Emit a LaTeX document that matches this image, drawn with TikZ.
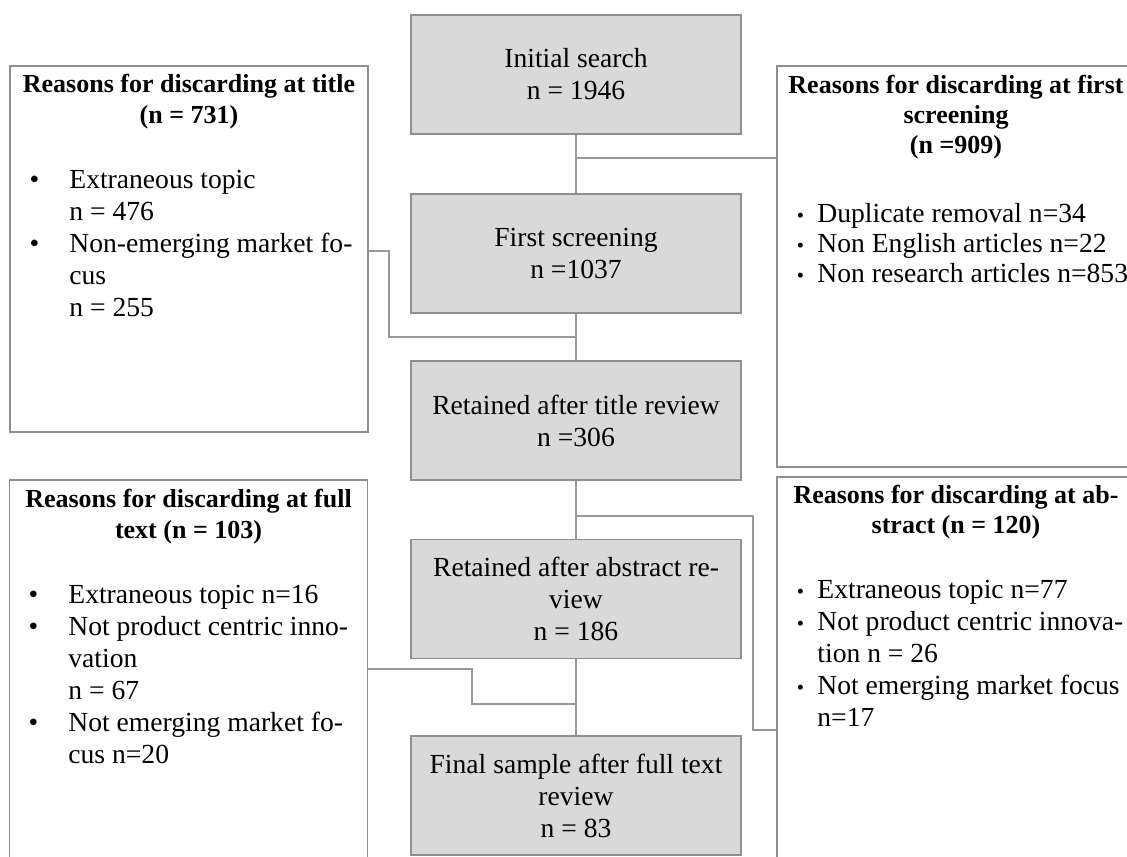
\documentclass[tikz,border=0pt]{standalone}
\usepackage{fontspec}
\setmainfont{Liberation Serif}

\definecolor{boxfill}{HTML}{D9D9D9}
\definecolor{boxline}{HTML}{8F8F8F}
\definecolor{linkline}{HTML}{999999}

% first line of a multi-line node gets a fixed height, so that the
% node's north edge lies a known distance above the first baseline
\newcommand{\topstrut}{\rule{0pt}{10pt}}
% bullets hanging to the left of the text start
\newcommand{\bulL}{\llap{\makebox[0pt][c]{\textbullet}\hspace{17.5pt}}}
\newcommand{\bulR}{\llap{\makebox[0pt][c]{\scalebox{0.75}{\textbullet}}\hspace{8.5pt}}}

\tikzset{
  stage/.style={draw=boxline, line width=0.8pt, fill=boxfill, rectangle,
    minimum width=165pt, minimum height=59.5pt, inner sep=0pt,
    align=center, font=\fontsize{13.8}{16}\selectfont},
  reasonbox/.style={draw=boxline, line width=0.8pt, fill=white, rectangle,
    minimum width=179pt, inner sep=0pt},
  reasontitle/.style={anchor=north, inner sep=0pt, align=center},
  reasonlist/.style={anchor=north west, inner sep=0pt, align=left},
  link/.style={draw=linkline, line width=0.6pt},
}

\begin{document}
\begin{tikzpicture}[x=0.5pt, y=-0.5pt]
\useasboundingbox (0,0) rectangle (1127,856);
\clip (0,0) rectangle (1127,856);
\fill[white] (0,0) rectangle (1127,856);

% main flow
\node[stage] (b1) at (576,74.5) {Initial search\\ n = 1946};
\node[stage] (b2) at (576,253.5) {First screening\\ n =1037};
\node[stage] (b3) at (576,420.5) {Retained after title review\\ n =306};
\node[stage] (b4) at (576,599) {Retained after abstract re-\\ view\\ n = 186};
\node[stage] (b5) at (576,795.5) {Final sample after full text\\ review\\ n = 83};

% boxes with the reasons for discarding
\node[reasonbox, minimum height=183pt] (l1) at (189,249) {};
\node[reasonbox, minimum height=200.5pt] (r1) at (956,266.5) {};
\node[reasonbox, minimum height=195pt] (l2) at (188.5,675) {};
\node[reasonbox, minimum height=196.5pt] (r2) at (956,673.5) {};

% titles
\node[reasontitle, font=\fontsize{13}{15.5}\selectfont\bfseries] (l1t) at (189,72)
  {\topstrut Reasons for discarding at title\\ (n = 731)};
\node[reasontitle, font=\fontsize{13}{15}\selectfont\bfseries] (r1t) at (956,73)
  {\topstrut Reasons for discarding at first\\ screening\\ (n =909)};
\node[reasontitle, font=\fontsize{13}{15.5}\selectfont\bfseries] (l2t) at (188.5,487)
  {\topstrut Reasons for discarding at full\\ text (n = 103)};
\node[reasontitle, font=\fontsize{13}{15}\selectfont\bfseries] (r2t) at (956,483)
  {\topstrut Reasons for discarding at ab-\\ stract (n = 120)};

% lists
\node[reasonlist, font=\fontsize{13.8}{16}\selectfont] (l1l) at (69,168)
  {\topstrut\bulL Extraneous topic\\ n = 476\\ \bulL Non-emerging market fo-\\ cus\\ n = 255};
\node[reasonlist, font=\fontsize{13.8}{15}\selectfont] (r1l) at (817,202)
  {\topstrut\bulR Duplicate removal n=34\\ \bulR Non English articles n=22\\ \bulR Non research articles n=853};
\node[reasonlist, font=\fontsize{13.8}{16}\selectfont] (l2l) at (68,583)
  {\topstrut\bulL Extraneous topic n=16\\ \bulL Not product centric inno-\\ vation\\ n = 67\\ \bulL Not emerging market fo-\\ cus n=20};
\node[reasonlist, font=\fontsize{13.8}{16}\selectfont] (r2l) at (817,578)
  {\topstrut\bulR Extraneous topic n=77\\ \bulR Not product centric innova-\\ tion n = 26\\ \bulR Not emerging market focus\\ n=17};

% junctions and bends of the connectors
\coordinate (j1) at (576,158);
\coordinate (j2) at (576,337);
\coordinate (k2) at (389,251);
\coordinate (j3) at (576,516);
\coordinate (k3) at (753,730);
\coordinate (j4) at (576,704);
\coordinate (k4) at (472,669);

% connectors
\draw[link] (b1.south) -- (b2.north);
\draw[link] (b2.south) -- (b3.north);
\draw[link] (b3.south) -- (b4.north);
\draw[link] (b4.south) -- (b5.north);
\draw[link] (j1) -- (j1 -| r1.west);
\draw[link] (j2) -| (k2) -- (k2 -| l1.east);
\draw[link] (j3) -| (k3) -- (k3 -| r2.west);
\draw[link] (j4) -| (k4) -- (k4 -| l2.east);
\end{tikzpicture}
\end{document}
